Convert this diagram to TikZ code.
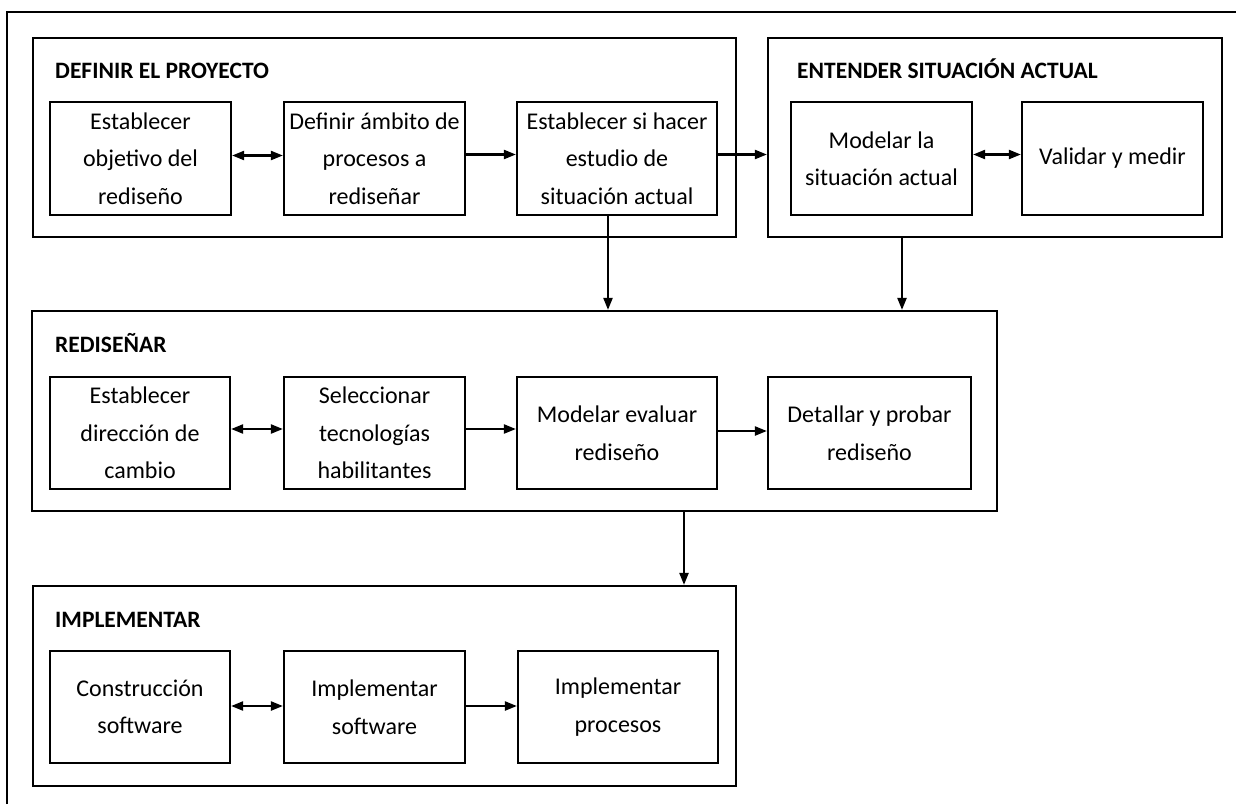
\documentclass[tikz,border=0pt]{standalone}
\usepackage{fontspec}
\setmainfont{Carlito}
\usetikzlibrary{arrows.meta,calc}
\begin{document}
\begin{tikzpicture}[x=1pt,y=-1pt,
  frame/.style={line width=2.2pt},
  stage/.style={draw,line width=2.2pt,inner sep=0pt},
  task/.style={draw,line width=2.2pt,inner sep=0pt,align=center,
    font=\fontsize{24}{37.5}\selectfont},
  heading/.style={anchor=base west,inner sep=0pt,
    font=\bfseries\fontsize{23.5}{28}\selectfont},
  tip/.tip={Triangle[length=12pt,width=9pt]},
  flow/.style={line width=2.2pt,-tip},
  mutual/.style={line width=2.2pt,tip-tip}]
\useasboundingbox (0,0) rectangle (1237,804);

% outer frame: top and left sides only
\coordinate (fr-bl) at (7,804);
\coordinate (fr-tl) at (7,12);
\coordinate (fr-tr) at (1236,12);
\draw[frame] (fr-bl) -- (fr-tl) -- (fr-tr);

% stage frames
\node[stage,minimum width=703pt,minimum height=199pt] (g1) at (384.5,137.5) {};
\node[stage,minimum width=454pt,minimum height=199pt] (g2) at (995,137.5) {};
\node[stage,minimum width=965pt,minimum height=200pt] (g3) at (514.5,411) {};
\node[stage,minimum width=703pt,minimum height=200pt] (g4) at (384.5,686) {};

% stage headings
\node[heading] (t1) at (55,78) {DEFINIR EL PROYECTO};
\node[heading] (t2) at (797,78) {ENTENDER SITUACIÓN ACTUAL};
\node[heading] (t3) at (55,352) {REDISEÑAR};
\node[heading] (t4) at (55,627) {IMPLEMENTAR};

% tasks: define the project
\node[task,minimum width=181pt,minimum height=113pt] (b1) at (140.5,158.5) {Establecer\\objetivo del\\rediseño};
\node[task,minimum width=181pt,minimum height=113pt] (b2) at (374.5,158.5) {Definir ámbito de\\procesos a\\rediseñar};
\node[task,minimum width=200pt,minimum height=113pt] (b3) at (617,158.5) {Establecer si hacer\\estudio de\\situación actual};

% tasks: understand the current situation
\node[task,minimum width=181pt,minimum height=113pt] (b4) at (881.5,158.5) {Modelar la\\situación actual};
\node[task,minimum width=181pt,minimum height=113pt] (b5) at (1112.5,158.5) {Validar y medir};

% tasks: redesign
\node[task,minimum width=180pt,minimum height=112pt] (b6) at (140,433) {Establecer\\dirección de\\cambio};
\node[task,minimum width=181pt,minimum height=112pt] (b7) at (374.5,433) {Seleccionar\\tecnologías\\habilitantes};
\node[task,minimum width=200pt,minimum height=112pt] (b8) at (617,433) {Modelar evaluar\\rediseño};
\node[task,minimum width=203pt,minimum height=112pt] (b9) at (869.5,433) {Detallar y probar\\rediseño};

% tasks: implement
\node[task,minimum width=180pt,minimum height=112pt] (b10) at (140,707) {Construcción\\software};
\node[task,minimum width=181pt,minimum height=112pt] (b11) at (374.5,707) {Implementar\\software};
\node[task,minimum width=200pt,minimum height=112pt] (b12) at (618,707) {Implementar\\procesos};

% links within stages
\draw[mutual] ([yshift=3pt]b1.east) -- ([yshift=3pt]b2.west);
\draw[flow] ([yshift=4pt]b2.east) -- ([yshift=4pt]b3.west);
\draw[flow] ([yshift=4pt]b3.east) -- ([yshift=4pt]b3.east -| g2.west);
\draw[mutual] ([yshift=4pt]b4.east) -- ([yshift=4pt]b5.west);

\draw[mutual] ([yshift=4pt]b6.east) -- ([yshift=4pt]b7.west);
\draw[flow] ([yshift=4pt]b7.east) -- ([yshift=4pt]b8.west);
\draw[flow] ([yshift=2pt]b8.east) -- ([yshift=2pt]b9.west);

\draw[mutual] ([yshift=1pt]b10.east) -- ([yshift=1pt]b11.west);
\draw[flow] ([yshift=1pt]b11.east) -- ([yshift=1pt]b12.west);

% links between stages
\draw[flow] ([xshift=-9pt]b3.south) -- ([xshift=-9pt]b3.south |- g3.north);
\draw[flow] ([xshift=-93pt,yshift=2pt]g2.south) -- ([xshift=-93pt]g2.south |- g3.north);
\draw[flow] ([xshift=169.5pt]g3.south) -- ([xshift=169.5pt]g3.south |- g4.north);
\end{tikzpicture}
\end{document}
